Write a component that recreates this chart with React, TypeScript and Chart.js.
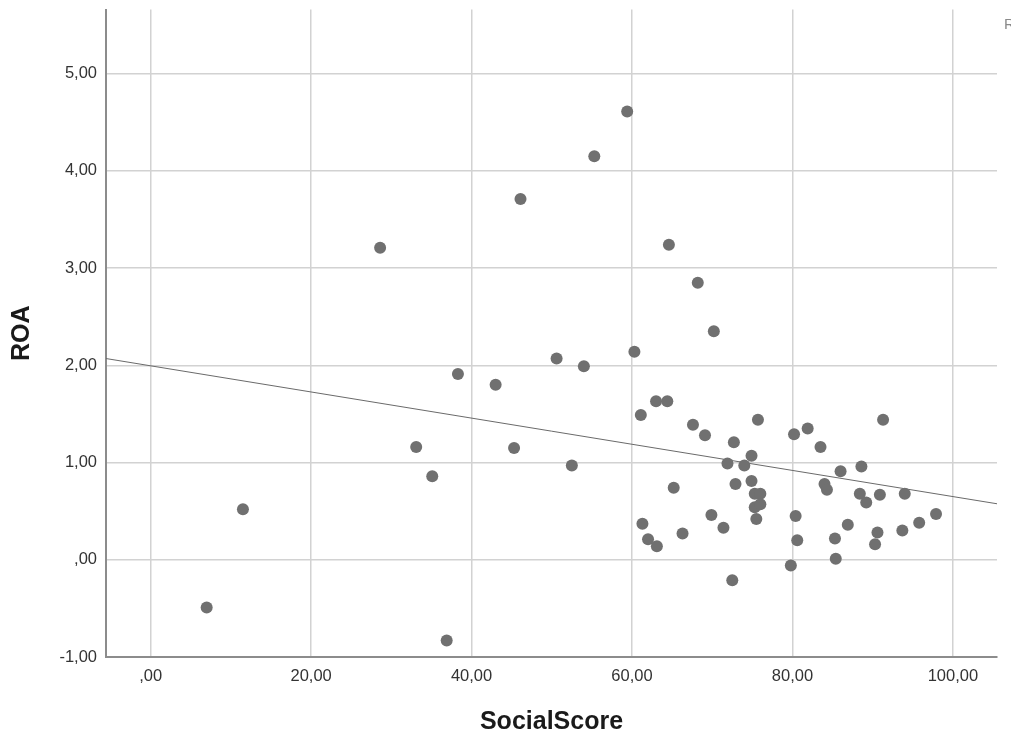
import React, { useEffect, useRef } from 'react';
import { Chart, registerables } from 'chart.js';

Chart.register(...registerables);

// SocialScore (x) and ROA (y) per observation
const socialScore = [
  6.98, 11.5, 28.6, 33.1, 35.1, 36.9, 38.3, 43.0, 45.3, 46.1,
  50.6, 52.5, 54.0, 55.3, 59.4, 60.3, 61.1, 61.3, 62.0, 63.0,
  63.1, 64.4, 64.6, 65.2, 66.3, 67.6, 68.2, 69.1, 69.9, 70.2,
  71.4, 71.9, 72.5, 72.7, 72.9, 74.0, 74.9, 74.9, 75.3, 75.3,
  75.5, 75.7, 76.0, 76.0, 79.8, 80.2, 80.4, 80.6, 81.9, 83.5,
  84.0, 84.3, 85.3, 85.4, 86.0, 86.9, 88.4, 88.6, 89.2, 90.3,
  90.6, 90.9, 91.3, 93.7, 94.0, 95.8, 97.9,
];
const roa = [
  -0.49, 0.52, 3.21, 1.16, 0.86, -0.83, 1.91, 1.80, 1.15, 3.71,
  2.07, 0.97, 1.99, 4.15, 4.61, 2.14, 1.49, 0.37, 0.21, 1.63,
  0.14, 1.63, 3.24, 0.74, 0.27, 1.39, 2.85, 1.28, 0.46, 2.35,
  0.33, 0.99, -0.21, 1.21, 0.78, 0.97, 1.07, 0.81, 0.68, 0.54,
  0.42, 1.44, 0.68, 0.57, -0.06, 1.29, 0.45, 0.20, 1.35, 1.16,
  0.78, 0.72, 0.22, 0.01, 0.91, 0.36, 0.68, 0.96, 0.59, 0.16,
  0.28, 0.67, 1.44, 0.30, 0.68, 0.38, 0.47,
];

const xTickValues = [0, 20, 40, 60, 80, 100];
const xTickLabels = [',00', '20,00', '40,00', '60,00', '80,00', '100,00'];
const yTickValues = [-1, 0, 1, 2, 3, 4, 5];
const yTickLabels = ['-1,00', ',00', '1,00', '2,00', '3,00', '4,00', '5,00'];

const xAxisTitle = 'SocialScore';
const yAxisTitle = 'ROA';

// linear fit line
const fitIntercept = 1.995;
const fitSlope = -0.01345;
const fitLabel = 'R² Linear = 0,036';

const xMin = -5.57;
const xMax = 105.5;
const yMin = -1;
const yMax = 5.66;

const FONT = '"Liberation Sans", Arial, sans-serif';

export default function App() {
  const canvasRef = useRef<HTMLCanvasElement | null>(null);

  useEffect(() => {
    document.body.style.margin = '0';
    const canvas = canvasRef.current;
    if (!canvas) return;

    const points = socialScore.map((x, i) => ({ x, y: roa[i] }));
    const fitLine = [xMin, xMax].map((x) => ({ x, y: fitIntercept + fitSlope * x }));

    const labelPlugin = {
      id: 'fitLabel',
      afterDraw(chart: any) {
        const ctx = chart.ctx;
        ctx.save();
        ctx.font = `15px ${FONT}`;
        ctx.fillStyle = '#8a8a8a';
        ctx.textAlign = 'left';
        ctx.textBaseline = 'middle';
        ctx.fillText(fitLabel, 1004, 25);
        ctx.restore();
      },
    };

    const chart = new Chart(canvas, {
      type: 'scatter',
      data: {
        datasets: [
          {
            type: 'scatter',
            data: points,
            backgroundColor: '#707070',
            borderColor: '#707070',
            borderWidth: 0,
            pointRadius: 6,
            pointHoverRadius: 6,
          },
          {
            type: 'line',
            data: fitLine,
            borderColor: '#6a6a6a',
            borderWidth: 1,
            pointRadius: 0,
            fill: false,
            showLine: true,
          } as any,
        ],
      },
      options: {
        animation: false,
        responsive: false,
        maintainAspectRatio: false,
        layout: { padding: { left: 0, top: 9.5, right: 14, bottom: 0 } },
        plugins: {
          legend: { display: false },
          tooltip: { enabled: false },
        },
        scales: {
          x: {
            type: 'linear',
            min: xMin,
            max: xMax,
            afterBuildTicks: (scale: any) => {
              scale.ticks = xTickValues.map((v) => ({ value: v }));
            },
            afterFit: (scale: any) => {
              scale.height = 79;
              scale.paddingLeft = 0;
              scale.paddingRight = 0;
            },
            ticks: {
              autoSkip: false,
              maxRotation: 0,
              padding: 10,
              color: '#333333',
              font: { family: FONT, size: 16.5 },
              callback: (value: any) => xTickLabels[xTickValues.indexOf(Number(value))],
            },
            grid: { color: '#d2d2d2', lineWidth: 1.5, drawTicks: false },
            border: { display: true, color: '#8c8c8c', width: 2 },
            title: {
              display: true,
              text: xAxisTitle,
              color: '#1a1a1a',
              font: { family: FONT, size: 25, weight: 'bold', lineHeight: 1 },
              padding: { top: 0, bottom: 1 },
            },
          },
          y: {
            type: 'linear',
            min: yMin,
            max: yMax,
            afterBuildTicks: (scale: any) => {
              scale.ticks = yTickValues.map((v) => ({ value: v }));
            },
            afterFit: (scale: any) => {
              scale.width = 106;
              scale.paddingTop = 0;
              scale.paddingBottom = 0;
            },
            ticks: {
              autoSkip: false,
              padding: 9,
              color: '#333333',
              font: { family: FONT, size: 16.5 },
              callback: (value: any) => yTickLabels[yTickValues.indexOf(Number(value))],
            },
            grid: { color: '#d2d2d2', lineWidth: 1.5, drawTicks: false },
            border: { display: true, color: '#8c8c8c', width: 2 },
            title: {
              display: true,
              text: yAxisTitle,
              color: '#1a1a1a',
              font: { family: FONT, size: 25, weight: 'bold', lineHeight: 1 },
              padding: { top: 10, bottom: 0 },
            },
          },
        },
      },
      plugins: [labelPlugin],
    } as any);

    return () => chart.destroy();
  }, []);

  return (
    <div style={{ width: 1011, height: 736 }}>
      <canvas ref={canvasRef} width={1011} height={736} />
    </div>
  );
}
